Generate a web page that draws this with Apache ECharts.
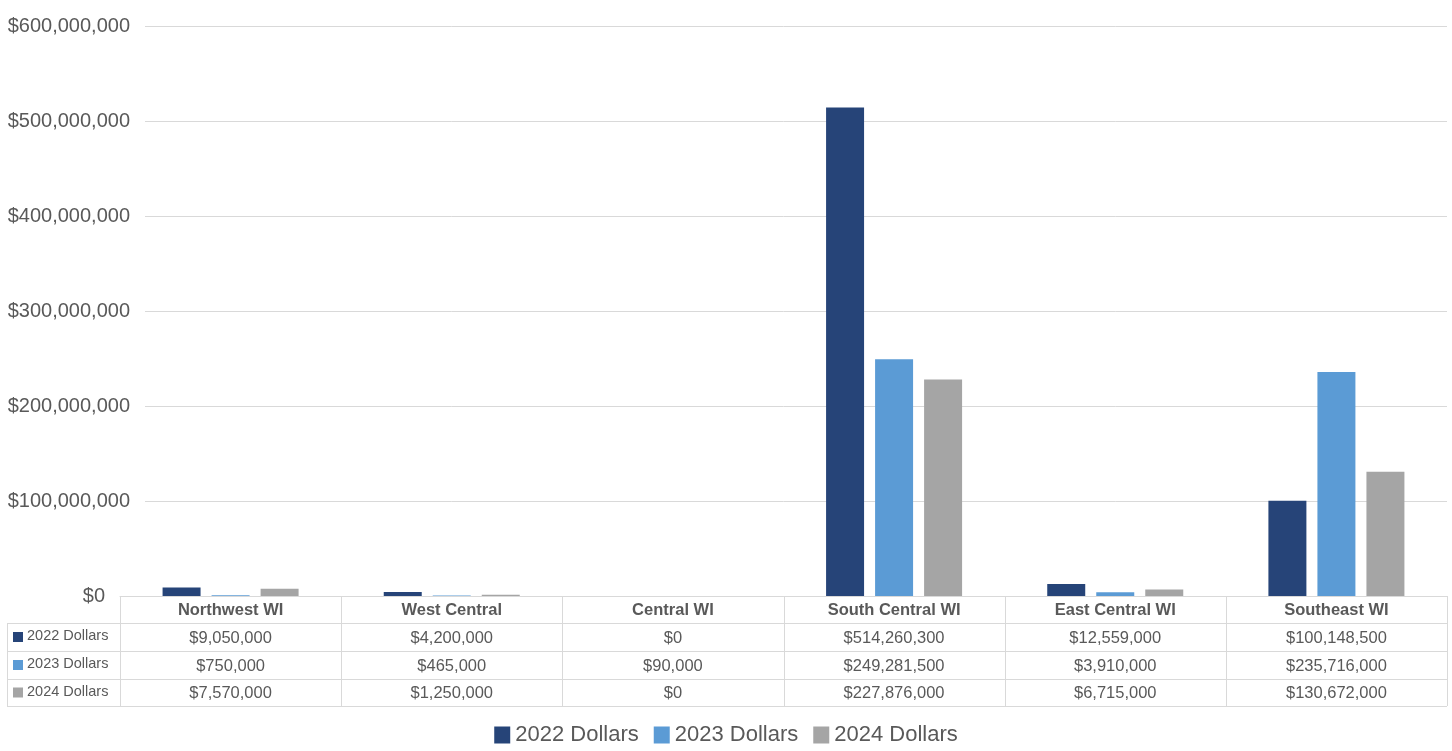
<!DOCTYPE html>
<html>
<head>
<meta charset="utf-8">
<script src="https://cdn.jsdelivr.net/npm/echarts@6/dist/echarts.min.js"></script>
<style>
html,body{margin:0;padding:0;background:#fff;}
#chart{width:1452px;height:751px;}
</style>
</head>
<body>
<div id="chart"></div>
<script>
const categories = ['Northwest WI','West Central','Central WI','South Central WI','East Central WI','Southeast WI'];
const seriesNames = ['2022 Dollars','2023 Dollars','2024 Dollars'];
const values2022 = [9050000,4200000,0,514260300,12559000,100148500];
const values2023 = [750000,465000,90000,249281500,3910000,235716000];
const values2024 = [7570000,1250000,0,227876000,6715000,130672000];
const yMin = 0, yMax = 600000000, yInterval = 100000000;

const colors = ['#264478','#5b9bd5','#a5a5a5'];
const textColor = '#595959';
const borderColor = '#d9d9d9';
const FONT = '"Liberation Sans", Arial, Helvetica, sans-serif';

const GRID_LEFT = 120, GRID_RIGHT_X = 1447, GRID_TOP = 26, GRID_BOTTOM_Y = 596;
const W = 1452, H = 751;
const TABLE_LEFT = 7;
const rowYs = [596, 623, 651, 679, 706];

function fmt(v){ return '$' + Math.round(v).toString().replace(/\B(?=(\d{3})+(?!\d))/g, ','); }

const allValues = [values2022, values2023, values2024];
const colW = (GRID_RIGHT_X - GRID_LEFT) / categories.length;

const graphics = [];
function hline(x1,x2,y){ graphics.push({type:'line', silent:true, shape:{x1:x1,y1:y+0.5,x2:x2,y2:y+0.5}, style:{stroke:borderColor, lineWidth:1}}); }
function vline(x,y1,y2){ graphics.push({type:'line', silent:true, shape:{x1:x+0.5,y1:y1,x2:x+0.5,y2:y2}, style:{stroke:borderColor, lineWidth:1}}); }

for (let r = 1; r < rowYs.length; r++) hline(TABLE_LEFT, GRID_RIGHT_X, rowYs[r]);
for (let i = 0; i <= categories.length; i++) vline(Math.round(GRID_LEFT + i*colW), rowYs[0], rowYs[4]);
vline(TABLE_LEFT, rowYs[1], rowYs[4]);

categories.forEach((c,i)=>{
  graphics.push({type:'text', silent:true, x: GRID_LEFT + (i+0.5)*colW, y:(rowYs[0]+rowYs[1])/2+1,
    style:{text:c, fill:textColor, font:'bold 16.5px ' + FONT, textAlign:'center', textVerticalAlign:'middle'}});
});
seriesNames.forEach((s,r)=>{
  const yc = (rowYs[r+1]+rowYs[r+2])/2 + 1;
  graphics.push({type:'rect', silent:true, shape:{x:TABLE_LEFT+6, y:yc-6, width:10, height:10}, style:{fill:colors[r]}});
  graphics.push({type:'text', silent:true, x:TABLE_LEFT+20, y:yc-2,
    style:{text:s, fill:textColor, font:'14.5px ' + FONT, textAlign:'left', textVerticalAlign:'middle'}});
  allValues[r].forEach((v,i)=>{
    graphics.push({type:'text', silent:true, x: GRID_LEFT + (i+0.5)*colW, y:yc,
      style:{text:fmt(v), fill:textColor, font:'16.5px ' + FONT, textAlign:'center', textVerticalAlign:'middle'}});
  });
});

const chart = echarts.init(document.getElementById('chart'), null, {renderer:'canvas', width:W, height:H});
chart.setOption({
  animation:false,
  backgroundColor:'#fff',
  textStyle:{fontFamily:FONT},
  grid:{left:GRID_LEFT, right:W-GRID_RIGHT_X, top:GRID_TOP, bottom:H-GRID_BOTTOM_Y, containLabel:false},
  legend:{
    data:seriesNames, bottom:0, left:'center', itemWidth:16, itemHeight:17, itemGap:15,
    icon:'rect',
    textStyle:{color:textColor, fontSize:22, fontFamily:FONT}
  },
  xAxis:{
    type:'category', data:categories,
    axisLine:{show:true, lineStyle:{color:borderColor}},
    axisTick:{show:false},
    axisLabel:{show:false}
  },
  yAxis:{
    type:'value', min:yMin, max:yMax, interval:yInterval,
    axisLine:{show:false}, axisTick:{show:false},
    axisLabel:{color:textColor, fontSize:20, fontFamily:FONT, margin:-25,
      formatter: v => v === 0 ? '{z|' + fmt(v) + '}' : '{a|' + fmt(v) + '}',
      rich:{
        a:{fontSize:20, color:textColor, fontFamily:FONT, backgroundColor:'#fff', padding:[2,15,2,0]},
        z:{fontSize:20, color:textColor, fontFamily:FONT, padding:[0,40,0,0]}
      }
    },
    splitLine:{lineStyle:{color:borderColor}}
  },
  series: seriesNames.map((n,i)=>({
    name:n, type:'bar', data:allValues[i], barGap:'29%', barCategoryGap:'38.5%',
    itemStyle:{color:colors[i]}
  })),
  graphic: graphics
});
</script>
</body>
</html>
